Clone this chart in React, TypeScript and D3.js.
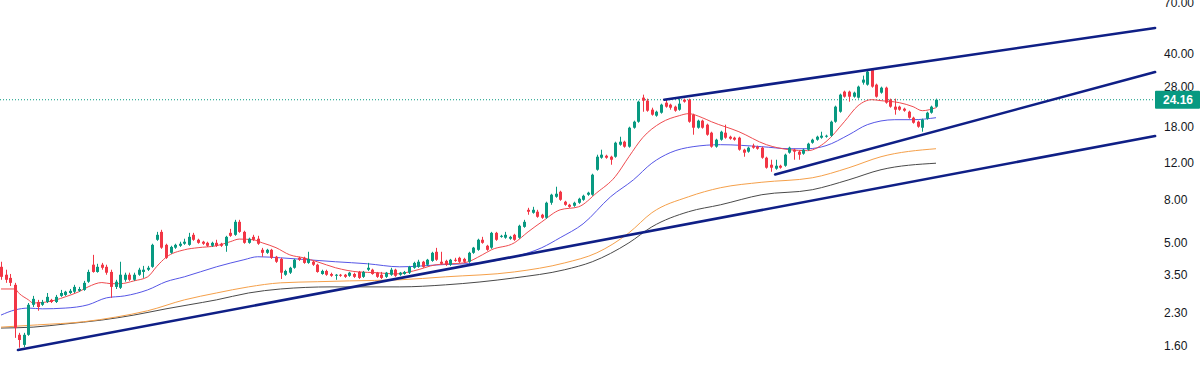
import React from 'react';
import * as d3 from 'd3';

const W = 1200;
const H = 365;

const opens = [
  3.83, 3.51, 3.39, 3.14, 1.81, 1.62, 1.81, 2.52, 2.60, 2.52,
  2.60, 2.66, 2.60, 2.78, 2.81, 2.87, 2.91, 2.94, 2.97, 3.25,
  3.92, 3.62, 3.92, 3.83, 3.62, 3.07, 3.04, 3.32, 3.51, 3.32,
  3.51, 3.62, 3.71, 3.83, 5.16, 5.63, 4.88, 4.47, 4.73, 4.83,
  4.94, 4.88, 5.45, 5.16, 5.05, 4.99, 4.83, 4.99, 4.94, 4.83,
  5.57, 5.45, 6.29, 5.63, 4.99, 5.33, 5.22, 4.62, 4.47, 4.62,
  4.28, 4.18, 3.51, 3.59, 3.79, 4.23, 4.23, 4.00, 4.05, 3.92,
  3.54, 3.66, 3.54, 3.47, 3.51, 3.51, 3.47, 3.54, 3.62, 3.43,
  3.71, 3.71, 3.59, 3.51, 3.43, 3.51, 3.71, 3.51, 3.54, 3.59,
  3.79, 3.83, 4.05, 3.92, 4.09, 4.52, 4.05, 4.09, 3.92, 4.14,
  4.23, 4.18, 4.05, 4.47, 4.62, 5.16, 4.83, 4.73, 5.57, 5.33,
  5.28, 5.22, 5.45, 5.28, 5.95, 7.18, 6.95, 7.03, 6.80, 6.58,
  7.76, 8.29, 8.76, 7.85, 7.59, 7.51, 7.76, 8.02, 8.48, 8.48,
  11.17, 12.75, 13.03, 12.89, 12.89, 14.72, 15.21, 14.40, 17.75, 18.96,
  24.72, 23.91, 21.65, 20.27, 20.94, 23.39, 22.88, 22.38, 21.65, 24.18,
  24.18, 20.49, 17.75, 19.18, 18.35, 16.80, 14.40, 15.55, 16.80, 16.07,
  15.90, 15.90, 13.93, 13.63, 14.56, 14.40, 14.24, 12.75, 11.80, 11.30,
  11.67, 11.67, 13.48, 13.93, 13.63, 13.33, 13.93, 15.04, 15.55, 15.90,
  16.07, 16.25, 18.96, 21.17, 26.41, 26.41, 24.99, 24.72, 29.17, 28.53,
  33.66, 28.53, 26.12, 27.60, 24.18, 22.38, 22.38, 21.89, 21.17, 19.82,
  18.96, 17.75, 19.61, 20.94, 22.38,
];

const highs = [
  4.05, 3.71, 3.54, 3.21, 1.85, 1.85, 2.57, 2.78, 2.66, 2.66,
  2.87, 2.69, 2.81, 2.97, 2.94, 3.00, 3.14, 3.07, 3.28, 3.71,
  4.37, 3.96, 4.00, 3.92, 3.71, 3.32, 4.05, 3.59, 3.59, 3.59,
  3.79, 3.87, 3.87, 4.94, 5.63, 5.76, 4.94, 4.83, 4.94, 5.05,
  5.22, 5.57, 5.57, 5.22, 5.10, 5.05, 5.05, 5.16, 4.99, 5.39,
  5.82, 6.43, 6.43, 5.70, 5.28, 5.45, 5.39, 4.72, 4.67, 4.67,
  4.32, 4.23, 3.71, 3.83, 4.18, 4.28, 4.28, 4.52, 4.09, 3.96,
  3.71, 3.71, 3.59, 3.54, 3.54, 3.54, 3.62, 3.59, 3.66, 3.66,
  4.00, 3.75, 3.62, 3.62, 3.62, 3.79, 3.75, 3.62, 3.66, 3.87,
  4.05, 4.14, 4.09, 4.18, 4.52, 4.72, 4.52, 4.14, 4.18, 4.23,
  4.28, 4.23, 4.52, 4.77, 5.22, 5.33, 4.88, 5.63, 5.63, 5.45,
  5.63, 5.39, 5.51, 6.09, 6.43, 7.34, 7.42, 7.18, 6.87, 7.85,
  8.57, 9.26, 8.86, 7.93, 7.67, 7.85, 8.20, 8.48, 8.76, 10.69,
  13.18, 13.93, 13.18, 13.03, 15.21, 16.07, 15.38, 17.95, 19.18, 23.91,
  25.55, 24.45, 22.13, 21.41, 23.13, 24.18, 23.13, 22.63, 24.45, 24.45,
  24.45, 20.72, 19.39, 19.39, 18.56, 16.98, 15.72, 17.17, 18.35, 16.25,
  16.07, 16.07, 14.08, 14.40, 14.88, 14.56, 14.40, 12.89, 12.47, 12.47,
  11.80, 13.33, 14.40, 14.08, 13.78, 14.08, 15.04, 15.72, 16.25, 16.98,
  16.43, 19.18, 22.63, 25.83, 26.70, 26.70, 26.41, 28.22, 31.51, 33.29,
  34.03, 28.85, 27.91, 27.91, 24.45, 24.45, 22.63, 22.13, 21.41, 20.04,
  19.18, 19.61, 21.17, 22.63, 24.45,
];

const lows = [
  3.32, 3.21, 3.10, 1.75, 1.57, 1.58, 1.79, 2.46, 2.36, 2.49,
  2.57, 2.57, 2.57, 2.75, 2.78, 2.84, 2.87, 2.91, 2.94, 3.21,
  3.59, 3.59, 3.71, 3.51, 2.72, 3.00, 3.00, 3.25, 3.28, 3.28,
  3.47, 3.39, 3.66, 3.79, 5.10, 4.67, 4.18, 4.42, 4.67, 4.77,
  4.88, 4.83, 5.10, 4.94, 4.88, 4.77, 4.77, 4.77, 4.77, 4.52,
  5.33, 5.39, 5.57, 4.94, 4.94, 5.10, 4.88, 4.28, 4.42, 4.18,
  4.00, 3.35, 3.47, 3.54, 3.75, 4.09, 3.96, 3.96, 3.87, 3.59,
  3.51, 3.47, 3.43, 3.32, 3.43, 3.39, 3.43, 3.39, 3.35, 3.39,
  3.66, 3.51, 3.39, 3.35, 3.39, 3.47, 3.43, 3.47, 3.51, 3.54,
  3.75, 3.79, 3.79, 3.87, 4.05, 4.09, 3.92, 3.87, 3.87, 4.05,
  4.00, 4.00, 4.00, 4.42, 4.57, 4.94, 4.57, 4.67, 5.10, 5.28,
  5.22, 5.16, 5.10, 5.22, 5.89, 6.80, 6.88, 6.58, 6.50, 6.50,
  7.59, 8.20, 7.93, 7.51, 7.34, 7.42, 7.67, 7.93, 8.38, 8.38,
  11.05, 12.61, 12.61, 11.80, 12.75, 14.56, 14.24, 14.24, 17.56, 18.75,
  21.17, 21.17, 20.27, 20.04, 20.72, 22.13, 21.65, 21.17, 21.41, 23.39,
  18.75, 16.43, 17.56, 17.56, 16.25, 14.24, 14.24, 15.38, 15.72, 15.55,
  15.38, 13.78, 12.89, 13.48, 14.08, 13.93, 12.61, 11.30, 10.92, 11.17,
  11.30, 11.54, 13.33, 12.47, 12.47, 13.18, 13.78, 14.88, 15.38, 15.72,
  15.90, 16.07, 18.75, 20.94, 24.72, 23.65, 24.72, 24.45, 28.53, 28.22,
  27.60, 24.72, 25.83, 23.13, 22.13, 20.49, 21.41, 21.17, 19.61, 18.56,
  17.75, 16.98, 19.39, 20.72, 22.13,
];

const closes = [
  3.43, 3.32, 3.21, 1.95, 1.71, 1.81, 2.52, 2.69, 2.46, 2.60,
  2.75, 2.60, 2.75, 2.87, 2.91, 2.94, 3.07, 3.00, 3.21, 3.62,
  3.62, 3.83, 3.79, 3.59, 3.07, 3.25, 3.51, 3.51, 3.32, 3.51,
  3.71, 3.71, 3.79, 4.88, 5.45, 4.73, 4.23, 4.77, 4.88, 4.94,
  5.05, 5.33, 5.16, 4.99, 4.94, 4.83, 4.99, 4.83, 4.83, 5.33,
  5.39, 6.29, 5.63, 4.99, 5.22, 5.16, 4.94, 4.47, 4.62, 4.23,
  4.05, 3.59, 3.66, 3.79, 4.14, 4.14, 4.00, 4.18, 3.92, 3.62,
  3.66, 3.51, 3.47, 3.51, 3.47, 3.43, 3.59, 3.43, 3.39, 3.62,
  3.79, 3.54, 3.43, 3.39, 3.59, 3.71, 3.47, 3.59, 3.62, 3.83,
  4.00, 4.05, 3.83, 4.14, 4.47, 4.14, 3.96, 3.92, 4.14, 4.09,
  4.05, 4.05, 4.47, 4.73, 5.16, 4.99, 4.62, 5.57, 5.16, 5.39,
  5.45, 5.33, 5.16, 6.02, 6.29, 7.03, 7.18, 6.65, 6.58, 7.76,
  8.48, 8.57, 8.02, 7.59, 7.42, 7.76, 8.11, 8.38, 8.67, 10.57,
  12.89, 13.18, 12.75, 12.47, 15.04, 15.21, 14.40, 17.75, 18.96, 23.65,
  23.91, 21.41, 20.49, 21.17, 22.88, 22.38, 22.13, 21.41, 23.13, 23.65,
  18.96, 17.75, 19.18, 17.75, 16.43, 14.40, 15.55, 16.98, 15.90, 15.72,
  15.55, 13.93, 13.48, 14.24, 14.24, 14.08, 12.75, 11.42, 11.42, 11.67,
  11.42, 13.18, 14.24, 13.63, 13.18, 13.93, 14.88, 15.55, 16.07, 16.25,
  16.25, 18.96, 22.38, 25.55, 24.99, 24.99, 26.12, 27.91, 30.15, 32.93,
  27.91, 24.99, 27.60, 23.39, 22.38, 21.65, 21.65, 21.41, 19.82, 18.75,
  17.95, 19.39, 20.94, 22.38, 24.16,
];

// Moving averages: bar index + value
const maFastIdx = [0, 3, 4, 6, 7, 10, 12, 14, 17, 19, 22, 24, 26, 29, 32, 34, 36, 40, 43, 47, 50, 52, 55, 57, 60, 63, 66, 69, 73, 78, 82, 86, 90, 95, 101, 105, 107, 112, 115, 118, 122, 126, 130, 134, 137, 140, 144, 148, 150, 153, 155, 161, 167, 172, 176, 180, 184, 187, 190, 192, 196, 199, 201, 204];
const maFast = [3.00, 3.00, 2.85, 2.66, 2.57, 2.60, 2.66, 2.75, 2.91, 3.07, 3.22, 3.18, 3.18, 3.28, 3.43, 3.85, 4.25, 4.62, 4.73, 4.83, 5.05, 5.20, 5.16, 4.99, 4.73, 4.37, 4.23, 4.05, 3.79, 3.62, 3.59, 3.54, 3.66, 3.92, 4.00, 4.37, 4.62, 4.99, 5.63, 6.29, 7.18, 7.42, 8.67, 10.34, 12.89, 15.90, 18.75, 20.27, 20.72, 19.82, 18.96, 16.98, 14.72, 13.93, 13.78, 15.21, 18.96, 22.63, 24.18, 23.91, 23.39, 22.38, 21.41, 22.13];

const maMidIdx = [0, 3, 6, 9, 14, 19, 23, 27, 32, 36, 40, 47, 53, 56, 61, 67, 73, 80, 87, 96, 104, 112, 118, 122, 127, 133, 138, 142, 146, 151, 157, 166, 172, 176, 180, 185, 189, 195, 199, 204];
const maMid = [2.25, 2.38, 2.43, 2.41, 2.43, 2.52, 2.72, 2.78, 2.97, 3.25, 3.43, 3.83, 4.14, 4.28, 4.23, 4.14, 4.05, 3.96, 3.83, 3.92, 4.00, 4.28, 4.73, 5.28, 6.15, 8.29, 10.00, 12.00, 13.48, 14.40, 14.72, 14.40, 14.08, 14.08, 14.56, 16.43, 18.35, 19.39, 19.39, 19.82];

const maSlowIdx = [0, 8, 18, 25, 32, 40, 47, 54, 61, 69, 76, 87, 97, 112, 123, 130, 137, 142, 150, 157, 166, 177, 185, 192, 204];
const maSlow = [1.97, 2.02, 2.09, 2.20, 2.36, 2.66, 2.87, 3.07, 3.21, 3.25, 3.28, 3.32, 3.43, 3.62, 4.00, 4.47, 5.57, 6.95, 8.29, 9.16, 9.73, 10.22, 11.42, 12.89, 14.08];

const maLongIdx = [0, 7, 14, 22, 29, 36, 41, 47, 54, 61, 72, 87, 97, 112, 123, 129, 137, 142, 150, 157, 166, 177, 185, 192, 204];
const maLong = [1.95, 1.97, 2.04, 2.13, 2.25, 2.41, 2.52, 2.66, 2.87, 3.00, 3.07, 3.07, 3.14, 3.39, 3.71, 4.05, 4.99, 5.95, 7.03, 7.59, 8.48, 8.96, 10.00, 11.17, 12.00];

// Drawn trend lines: [start, end] in bar index and price
const trendBottomIdx = [3.7, 251.8];
const trendBottom = [1.53, 16.2];
const trendUpperIdx = [144.7, 251.8];
const trendUpper = [24.18, 53.3];
const trendLowerIdx = [168.9, 251.8];
const trendLower = [10.6, 32.8];

const priceTicks = [1.6, 2.3, 3.5, 5, 8, 12, 18, 28, 40, 70];
const lastPrice = 24.16;

const UP = '#089981';
const DOWN = '#f23645';

export default function App() {
  const x = d3.scaleLinear().domain([0, closes.length - 1]).range([1, 936]);
  const y = d3.scaleLog().domain([1.6, 40]).range([346, 54]);

  const maLine = (idx: number[], vals: number[]) =>
    d3
      .line<number>()
      .x((_, k) => x(idx[k]))
      .y((v) => y(v))
      .curve(d3.curveMonotoneX)(vals) || '';

  const seg = (idx: number[], vals: number[]) => ({
    x1: x(idx[0]),
    y1: y(vals[0]),
    x2: x(idx[1]),
    y2: y(vals[1]),
  });

  const bodyW = 3;
  const lp = y(lastPrice);
  const font = '"Liberation Sans", Arial, sans-serif';

  return (
    <svg
      width={W}
      height={H}
      style={{ position: 'absolute', left: 0, top: 0, background: '#fff' }}
    >
      <rect x={0} y={0} width={W} height={H} fill="#ffffff" />
      {/* last price dotted line */}
      <line x1={0} x2={1155} y1={lp} y2={lp} stroke={UP} strokeWidth={1} strokeDasharray="1 2" />

      {/* moving averages */}
      <path d={maLine(maLongIdx, maLong)} fill="none" stroke="#4a4a4a" strokeWidth={1} />
      <path d={maLine(maSlowIdx, maSlow)} fill="none" stroke="#f5a04a" strokeWidth={1} />
      <path d={maLine(maMidIdx, maMid)} fill="none" stroke="#5656e6" strokeWidth={1} />
      <path d={maLine(maFastIdx, maFast)} fill="none" stroke="#ef4b4f" strokeWidth={1} />

      {/* candles */}
      {closes.map((c, i) => {
        const o = opens[i];
        const up = c >= o;
        const col = up ? UP : DOWN;
        const cx = Math.round(x(i)) + 0.5;
        const top = y(Math.max(o, c));
        const bot = y(Math.min(o, c));
        return (
          <g key={i}>
            <line x1={cx} x2={cx} y1={y(highs[i])} y2={y(lows[i])} stroke={col} strokeWidth={1} />
            <rect
              x={cx - bodyW / 2}
              y={top}
              width={bodyW}
              height={Math.max(1, bot - top)}
              fill={col}
            />
          </g>
        );
      })}

      {/* trend lines */}
      {[seg(trendBottomIdx, trendBottom), seg(trendUpperIdx, trendUpper), seg(trendLowerIdx, trendLower)].map(
        (s, k) => (
          <line key={k} {...s} stroke="#0f1f86" strokeWidth={2.6} strokeLinecap="round" />
        )
      )}

      {/* price axis labels */}
      {priceTicks.map((t) => (
        <text
          key={t}
          x={1164}
          y={y(t)}
          dy="0.35em"
          fontFamily={font}
          fontSize={12}
          fill="#131722"
        >
          {t.toFixed(2)}
        </text>
      ))}

      {/* last price label */}
      <rect x={1155} y={lp - 9} width={45} height={18} fill={UP} rx={1} />
      <text x={1163} y={lp} dy="0.36em" fontFamily={font} fontSize={12} fontWeight={600} fill="#ffffff">
        {lastPrice.toFixed(2)}
      </text>
    </svg>
  );
}
